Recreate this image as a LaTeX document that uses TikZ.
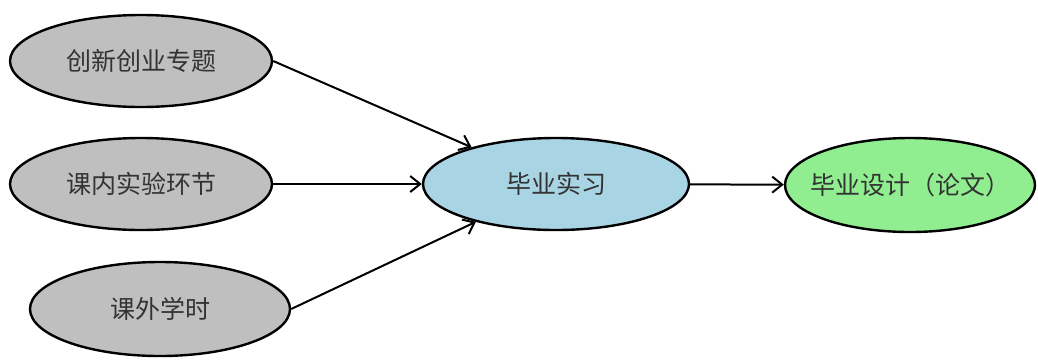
\documentclass[tikz,border=0pt]{standalone}
\usepackage{fontspec}
\setmainfont{Noto Sans CJK SC}
\usetikzlibrary{shapes.geometric,arrows.meta}
\begin{document}
\begin{tikzpicture}[x=1pt,y=-1pt,
  ell/.style={ellipse,draw=black,line width=2.4pt,inner xsep=-40pt,inner ysep=-12pt,text=black!80,font=\fontsize{25}{30}\selectfont},
  grayell/.style={ell,fill=gray!50},
  conn/.style={line width=2pt,-{Straight Barb[length=10pt,width=16pt,line width=2pt]}}]
\useasboundingbox (0,0) rectangle (1038,360);
\node[grayell,minimum width=262pt,minimum height=92pt] (a) at (141,61) {创新创业专题};
\node[grayell,minimum width=262pt,minimum height=92pt] (b) at (141,184) {课内实验环节};
\node[grayell,minimum width=260pt,minimum height=94pt] (c) at (160,309) {课外学时};
\node[ell,fill={rgb,255:red,168;green,212;blue,228},minimum width=266pt,minimum height=92pt] (d) at (556,184) {毕业实习};
\node[ell,fill={rgb,255:red,144;green,238;blue,144},minimum width=250pt,minimum height=94pt] (e) at (910,185) {毕业设计（论文）};
\draw[conn] (a.east) -- (d);
\draw[conn] (b) -- (d);
\draw[conn] (c.east) -- (d);
\draw[conn] (d) -- (e);
\end{tikzpicture}
\end{document}
